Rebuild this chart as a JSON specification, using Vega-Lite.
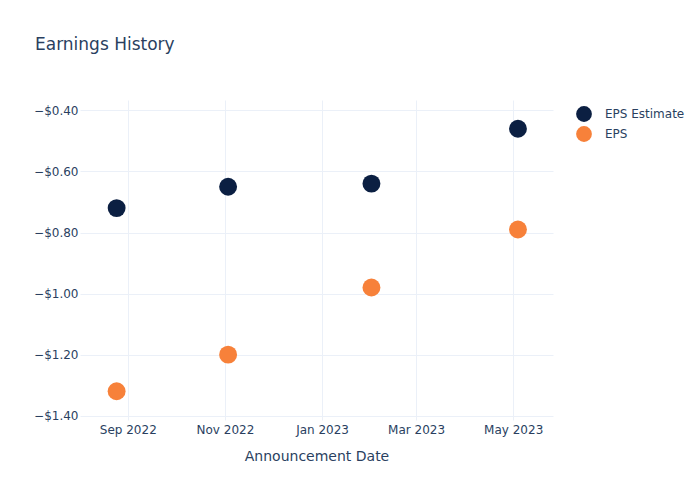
{
  "$schema": "https://vega.github.io/schema/vega-lite/v6.json",
  "autosize": "none",
  "width": 473,
  "height": 320,
  "padding": {"left": 80, "top": 100, "right": 147, "bottom": 80},
  "background": "white",
  "config": {
    "font": "DejaVu Sans",
    "view": {"stroke": null}
  },
  "title": {
    "text": "Earnings History",
    "anchor": "start",
    "frame": "group",
    "dx": -45,
    "offset": 33,
    "baseline": "alphabetic",
    "fontSize": 17,
    "fontWeight": "normal",
    "color": "#2a3f5f",
    "font": "DejaVu Sans"
  },
  "data": {
    "values": [
      {"date": "2022-08-25", "series": "EPS Estimate", "value": -0.72},
      {"date": "2022-11-03", "series": "EPS Estimate", "value": -0.65},
      {"date": "2023-02-01", "series": "EPS Estimate", "value": -0.64},
      {"date": "2023-05-04", "series": "EPS Estimate", "value": -0.46},
      {"date": "2022-08-25", "series": "EPS", "value": -1.32},
      {"date": "2022-11-03", "series": "EPS", "value": -1.2},
      {"date": "2023-02-01", "series": "EPS", "value": -0.98},
      {"date": "2023-05-04", "series": "EPS", "value": -0.79}
    ]
  },
  "mark": {"type": "circle", "size": 320, "opacity": 1},
  "encoding": {
    "x": {
      "field": "date",
      "type": "temporal",
      "title": "Announcement Date",
      "scale": {"domain": ["2022-08-02", "2023-05-26"]},
      "axis": {
        "values": ["2022-09-01", "2022-11-01", "2023-01-01", "2023-03-01", "2023-05-01"],
        "format": "%b %Y",
        "labelColor": "#2a3f5f",
        "labelFontSize": 12,
        "labelPadding": 4,
        "titleColor": "#2a3f5f",
        "titleFontSize": 14,
        "titleFontWeight": "normal",
        "titlePadding": 14,
        "domain": false,
        "ticks": false,
        "grid": true,
        "gridColor": "#ebf0f8",
        "gridWidth": 1,
        "labelFlush": false
      }
    },
    "y": {
      "field": "value",
      "type": "quantitative",
      "title": null,
      "scale": {"domain": [-1.414, -0.366], "nice": false, "zero": false},
      "axis": {
        "values": [-1.4, -1.2, -1.0, -0.8, -0.6, -0.4],
        "format": "$.2f",
        "labelColor": "#2a3f5f",
        "labelFontSize": 12,
        "labelPadding": 2,
        "domain": false,
        "ticks": false,
        "grid": true,
        "gridColor": "#ebf0f8",
        "gridWidth": 1
      }
    },
    "color": {
      "field": "series",
      "type": "nominal",
      "scale": {"domain": ["EPS Estimate", "EPS"], "range": ["#0b1f42", "#f7813a"]},
      "legend": {
        "title": null,
        "orient": "none",
        "legendX": 495,
        "legendY": 5,
        "symbolType": "circle",
        "symbolSize": 250,
        "symbolOpacity": 1,
        "labelFontSize": 12,
        "labelColor": "#2a3f5f",
        "labelOffset": 12,
        "rowPadding": 3
      }
    }
  }
}
